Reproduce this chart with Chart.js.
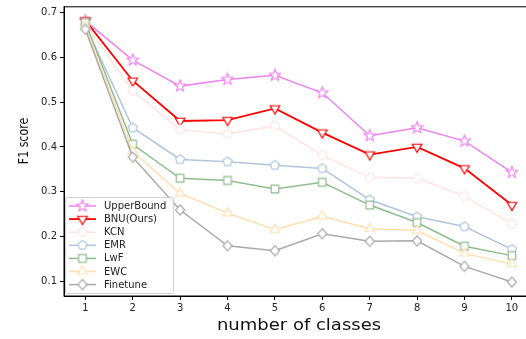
<!DOCTYPE html>
<html>
<head>
<meta charset="utf-8">
<script src="https://cdn.jsdelivr.net/npm/chart.js@4.4.1/dist/chart.umd.min.js"></script>
<style>
  html, body { margin: 0; padding: 0; background: #fff; overflow: hidden; }
  #wrap { width: 540px; height: 339px; }
</style>
</head>
<body>
<div id="wrap"><canvas id="myChart" width="540" height="339"></canvas></div>
<script>
// number of classes
const classes = [1, 2, 3, 4, 5, 6, 7, 8, 9, 10];
const yTicks = [0.1, 0.2, 0.3, 0.4, 0.5, 0.6, 0.7];

const upperBound = [0.682, 0.594, 0.536, 0.551, 0.560, 0.521, 0.425, 0.443, 0.413, 0.343];
const bnu        = [0.683, 0.548, 0.458, 0.460, 0.486, 0.432, 0.383, 0.400, 0.352, 0.270];
const kcn        = [0.675, 0.525, 0.439, 0.429, 0.447, 0.381, 0.332, 0.330, 0.290, 0.228];
const emr        = [0.672, 0.443, 0.372, 0.367, 0.359, 0.352, 0.282, 0.244, 0.222, 0.171];
const lwf        = [0.678, 0.406, 0.330, 0.325, 0.306, 0.321, 0.270, 0.231, 0.178, 0.157];
const ewc        = [0.670, 0.390, 0.296, 0.252, 0.215, 0.245, 0.217, 0.213, 0.162, 0.138];
const finetune   = [0.663, 0.377, 0.259, 0.179, 0.168, 0.206, 0.189, 0.190, 0.133, 0.098];

// marker images (hollow, white filled)
function makeMarker(shape, color) {
    const c = document.createElement('canvas');
    c.width = 16; c.height = 16;
    const ctx = c.getContext('2d');
    const cx = 8, cy = 8;
    ctx.beginPath();
    if (shape == 'star') {
        for (let i = 0; i < 10; i++) {
            const r = (i % 2 == 0) ? 6 : 2.6;
            const a = -Math.PI / 2 + i * Math.PI / 5;
            ctx.lineTo(cx + r * Math.cos(a), cy + r * Math.sin(a));
        }
        ctx.closePath();
    } else if (shape == 'tri_down' || shape == 'tri_up') {
        const s = shape == 'tri_up' ? -1 : 1;
        const r = 5.5;
        for (let i = 0; i < 3; i++) {
            const a = s * Math.PI / 2 + i * 2 * Math.PI / 3;
            ctx.lineTo(cx + r * Math.cos(a), cy + r * Math.sin(a));
        }
        ctx.closePath();
    } else if (shape == 'circle') {
        ctx.arc(cx, cy, 4.3, 0, Math.PI * 2);
    } else if (shape == 'pentagon') {
        for (let i = 0; i < 5; i++) {
            const a = -Math.PI / 2 + i * 2 * Math.PI / 5;
            ctx.lineTo(cx + 4.8 * Math.cos(a), cy + 4.8 * Math.sin(a));
        }
        ctx.closePath();
    } else if (shape == 'square') {
        ctx.rect(cx - 3.8, cy - 3.8, 7.6, 7.6);
    } else if (shape == 'diamond') {
        ctx.moveTo(cx, cy - 5.2);
        ctx.lineTo(cx + 4.6, cy);
        ctx.lineTo(cx, cy + 5.2);
        ctx.lineTo(cx - 4.6, cy);
        ctx.closePath();
    }
    ctx.fillStyle = '#fff';
    ctx.fill();
    ctx.lineWidth = 1.2;
    ctx.strokeStyle = color;
    ctx.stroke();
    return c;
}

const series = [
    {label: 'UpperBound', data: upperBound, color: '#ee82ee', shape: 'star', width: 1.5},
    {label: 'BNU(Ours)', data: bnu, color: '#ff0000', shape: 'tri_down', width: 1.8},
    {label: 'KCN', data: kcn, color: '#ffe4e1', shape: 'circle', width: 1.5},
    {label: 'EMR', data: emr, color: '#b0c4de', shape: 'pentagon', width: 1.5},
    {label: 'LwF', data: lwf, color: '#8fbc8f', shape: 'square', width: 1.5},
    {label: 'EWC', data: ewc, color: '#ffdead', shape: 'tri_up', width: 1.5},
    {label: 'Finetune', data: finetune, color: '#a9a9a9', shape: 'diamond', width: 1.5}
];
series.forEach(s => s.marker = makeMarker(s.shape, s.color));

const datasets = series.map((s, i) => ({
    label: s.label,
    data: classes.map((c, j) => ({x: c, y: s.data[j]})),
    borderColor: s.color,
    backgroundColor: s.color,
    borderWidth: s.width,
    pointStyle: s.marker,
    pointRadius: 5,
    pointHoverRadius: 5,
    tension: 0,
    order: series.length - i
}));

// frame, axis titles (the source figure is a bit stretched sideways) and legend
const framePlugin = {
    id: 'frame',
    afterDatasetsDraw(chart) {
        const {ctx, chartArea: a} = chart;
        ctx.save();
        ctx.strokeStyle = '#000';
        ctx.lineWidth = 1;
        ctx.strokeRect(a.left, a.top, a.right - a.left, a.bottom - a.top);

        // axis titles
        ctx.fillStyle = '#111';
        ctx.textAlign = 'center';
        ctx.textBaseline = 'middle';
        ctx.save();
        ctx.translate(299, 326);
        ctx.scale(1.2, 1);
        ctx.font = '15px "DejaVu Sans"';
        ctx.fillText('number of classes', 0, 0);
        ctx.restore();
        ctx.save();
        ctx.translate(24, 141);
        ctx.scale(1.3, 1);
        ctx.rotate(-Math.PI / 2);
        ctx.font = '11px "DejaVu Sans"';
        ctx.fillText('F1 score', 0, 0);
        ctx.restore();

        // legend
        const bx = 65.5, by = 197.5, bw = 108, bh = 96;
        ctx.fillStyle = 'rgba(255,255,255,0.8)';
        ctx.strokeStyle = '#d0d0d0';
        ctx.beginPath();
        ctx.roundRect(bx, by, bw, bh, 2);
        ctx.fill();
        ctx.stroke();
        ctx.font = '10px "DejaVu Sans"';
        ctx.textAlign = 'left';
        ctx.textBaseline = 'middle';
        series.forEach((s, i) => {
            const y = 206 + i * 13.1;
            ctx.strokeStyle = s.color;
            ctx.lineWidth = s.width;
            ctx.beginPath();
            ctx.moveTo(69, y);
            ctx.lineTo(96, y);
            ctx.stroke();
            ctx.drawImage(s.marker, 82.5 - 8, y - 8);
            ctx.fillStyle = '#222';
            ctx.fillText(s.label, 104, y + 0.5);
        });
        ctx.restore();
    }
};

const config = {
    type: 'line',
    data: {datasets: datasets},
    options: {
        responsive: false,
        animation: false,
        layout: {padding: {top: 5, left: 0, right: 0, bottom: 0}},
        plugins: {
            legend: {display: false},
            tooltip: {enabled: false}
        },
        scales: {
            x: {
                type: 'linear',
                min: 0.55,
                max: 10.45,
                afterBuildTicks: ax => { ax.ticks = classes.map(v => ({value: v})); },
                afterFit: ax => { ax.height = 43; },
                grid: {display: true, drawOnChartArea: false, drawTicks: true, tickLength: 4, color: '#000'},
                border: {display: true, color: '#000'},
                ticks: {color: '#222', font: {family: 'DejaVu Sans', size: 10}, padding: 2, maxRotation: 0}
            },
            y: {
                type: 'linear',
                min: 0.0667,
                max: 0.7133,
                afterBuildTicks: ax => { ax.ticks = yTicks.map(v => ({value: v})); },
                afterFit: ax => { ax.width = 64; ax.paddingTop = 0; ax.paddingBottom = 0; },
                grid: {display: true, drawOnChartArea: false, drawTicks: true, tickLength: 4, color: '#000'},
                border: {display: true, color: '#000'},
                ticks: {color: '#222', font: {family: 'DejaVu Sans', size: 10}, padding: 3,
                        callback: v => v.toFixed(1)}
            }
        }
    },
    plugins: [framePlugin]
};

let myChart = new Chart(document.getElementById('myChart'), config);
</script>
</body>
</html>
